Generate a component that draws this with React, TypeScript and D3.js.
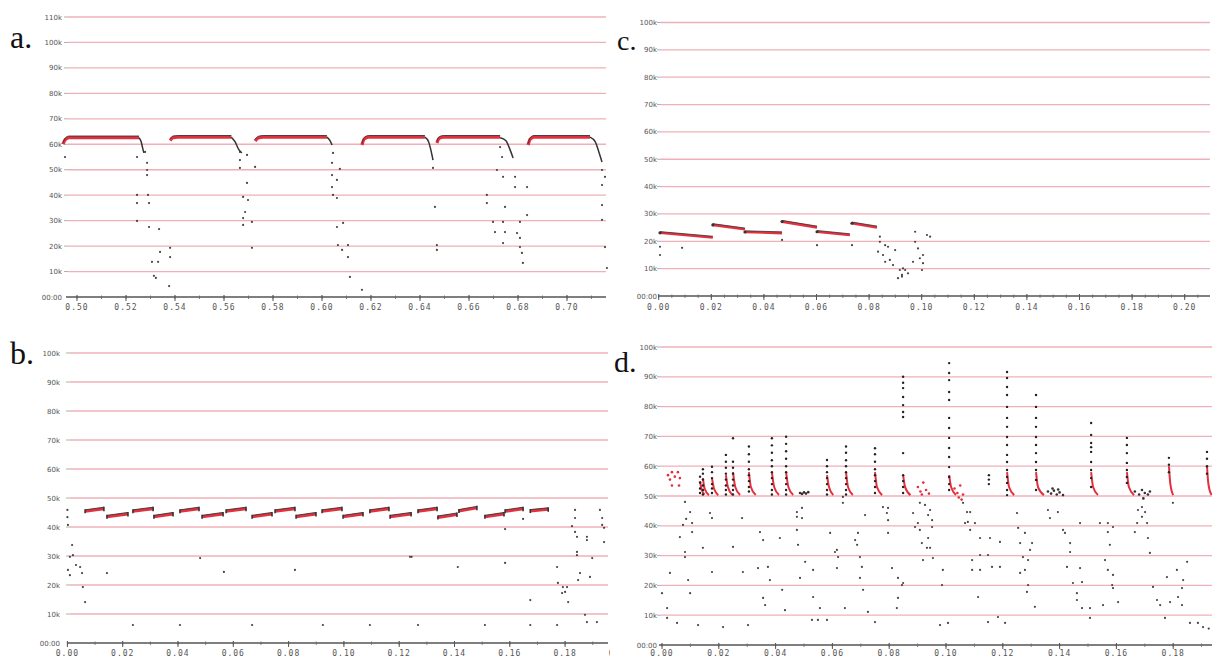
import React from "react";
import * as d3 from "d3";

// ---------------- DATA ----------------
// Panel a
const yTicksA = [0, 10, 20, 30, 40, 50, 60, 70, 80, 90, 100, 110];
const yLabelsA = ["00:00", "10k", "20k", "30k", "40k", "50k", "60k", "70k", "80k", "90k", "100k", "110k"];
const xTicksA = [0.5, 0.52, 0.54, 0.56, 0.58, 0.6, 0.62, 0.64, 0.66, 0.68, 0.7];
const xLabelsA = ["0.50", "0.52", "0.54", "0.56", "0.58", "0.60", "0.62", "0.64", "0.66", "0.68", "0.70"];

const plateauA: [number, number][][] = [
  [[0.4943, 60.0], [0.4952, 61.8], [0.4968, 62.6], [0.5253, 62.6]],
  [[0.538, 61.5], [0.5392, 62.6], [0.541, 62.8], [0.563, 62.8]],
  [[0.5727, 61.3], [0.574, 62.5], [0.576, 62.8], [0.602, 62.8]],
  [[0.6163, 59.7], [0.6172, 62.0], [0.619, 62.8], [0.642, 62.8]],
  [[0.6469, 60.5], [0.6478, 62.3], [0.6495, 62.8], [0.6727, 62.8]],
  [[0.6841, 59.7], [0.685, 62.0], [0.6865, 62.8], [0.7094, 62.8]],
];
const dropA: [number, number][][] = [
  [[0.5253, 62.6], [0.5262, 61.0], [0.5268, 58.5], [0.5273, 56.6]],
  [[0.563, 62.8], [0.5645, 61.0], [0.566, 58.0], [0.5673, 56.6]],
  [[0.602, 62.8], [0.6032, 61.5], [0.6041, 59.7]],
  [[0.642, 62.8], [0.6435, 61.0], [0.6445, 57.5], [0.6453, 53.8]],
  [[0.6727, 62.6], [0.675, 61.5], [0.6765, 58.5], [0.678, 54.6]],
  [[0.7094, 62.8], [0.7115, 61.0], [0.713, 57.0], [0.7143, 53.0]],
];
const scatterA: [number, number][] = [
  [0.4951, 55.0], [0.5245, 55.0], [0.5278, 57.0], [0.5286, 52.7], [0.5286, 49.9], [0.5286, 47.9],
  [0.5245, 40.1], [0.529, 40.1], [0.5245, 36.9], [0.5294, 36.9], [0.5245, 29.9], [0.5294, 27.5],
  [0.5335, 26.7], [0.5339, 17.7], [0.538, 19.3], [0.5306, 13.8], [0.5331, 13.8], [0.538, 15.7],
  [0.5314, 8.3], [0.5322, 7.5], [0.5376, 4.3],
  [0.5665, 57.0], [0.5665, 53.8], [0.5694, 55.8], [0.5665, 50.7], [0.5727, 51.1], [0.5694, 44.8],
  [0.5678, 39.3], [0.5698, 38.1], [0.5686, 33.4], [0.5678, 31.0], [0.5678, 28.3], [0.5714, 29.5],
  [0.5714, 19.3],
  [0.6045, 56.6], [0.6041, 52.7], [0.6073, 50.3], [0.6041, 47.9], [0.6041, 43.2], [0.6061, 46.0],
  [0.6045, 40.1], [0.6061, 38.9], [0.6061, 27.5], [0.6086, 29.1], [0.6065, 20.4], [0.6106, 20.4],
  [0.6082, 18.5], [0.6106, 15.7], [0.6114, 7.9], [0.6163, 2.8],
  [0.6453, 50.7], [0.6461, 35.4], [0.6469, 20.4], [0.6469, 18.5],
  [0.6727, 58.9], [0.6735, 55.0], [0.6714, 49.9], [0.6739, 47.2], [0.6788, 47.2], [0.6673, 40.1],
  [0.6673, 36.9], [0.6747, 35.4], [0.6788, 43.2], [0.6837, 43.2], [0.6698, 29.5], [0.6739, 29.5],
  [0.6808, 29.5], [0.6706, 25.5], [0.6747, 25.5], [0.6796, 25.1], [0.6837, 32.2], [0.6808, 23.2],
  [0.6739, 21.2], [0.6808, 19.6], [0.6816, 17.3], [0.682, 13.4],
  [0.7143, 49.9], [0.7155, 47.2], [0.7143, 44.0], [0.7143, 36.1], [0.7143, 30.3], [0.7155, 19.6],
  [0.7163, 11.4],
];

// Panel b
const yTicksB = [0, 10, 20, 30, 40, 50, 60, 70, 80, 90, 100];
const yLabelsB = ["00:00", "10k", "20k", "30k", "40k", "50k", "60k", "70k", "80k", "90k", "100k"];
const xTicksB = [0, 0.02, 0.04, 0.06, 0.08, 0.1, 0.12, 0.14, 0.16, 0.18, 0.2];
const xLabelsB = ["0.00", "0.02", "0.04", "0.06", "0.08", "0.10", "0.12", "0.14", "0.16", "0.18", "0.20"];
// [xStart, yStart, xEnd, yEnd]
const segmentsB: [number, number, number, number][] = [
  [0.0064, 45.4, 0.0132, 46.3], [0.0143, 43.5, 0.0219, 44.5], [0.0237, 45.4, 0.031, 46.3],
  [0.0313, 43.5, 0.0382, 44.5], [0.0407, 45.4, 0.0476, 46.3], [0.0487, 43.5, 0.0563, 44.5],
  [0.0574, 45.4, 0.0646, 46.3], [0.0668, 43.5, 0.074, 44.5], [0.0751, 45.4, 0.0823, 46.3],
  [0.0827, 43.5, 0.0899, 44.5], [0.0921, 45.4, 0.0993, 46.3], [0.0997, 43.5, 0.1069, 44.5],
  [0.1094, 45.4, 0.1163, 46.3], [0.1167, 43.5, 0.1243, 44.5], [0.1268, 45.4, 0.1337, 46.3],
  [0.134, 43.3, 0.1409, 44.3], [0.1416, 45.5, 0.1481, 46.6], [0.151, 43.5, 0.1579, 44.5],
  [0.1583, 45.4, 0.1648, 46.3], [0.1674, 45.5, 0.1739, 46.1],
];
const scatterB: [number, number][] = [
  [0.0, 45.9], [0.0, 43.4], [0.0002, 40.7], [0.0017, 33.8], [0.002, 30.3], [0.0009, 29.7],
  [0.0031, 26.9], [0.0046, 26.2], [0.0002, 25.2], [0.0053, 24.1], [0.0009, 23.4], [0.0143, 24.1],
  [0.0056, 19.3], [0.0064, 14.1], [0.0237, 6.2], [0.0407, 6.2], [0.0668, 6.2], [0.048, 29.3],
  [0.0566, 24.5], [0.0823, 25.2],
  [0.0924, 6.2], [0.1094, 6.2], [0.1268, 6.2], [0.151, 6.2], [0.1674, 6.2], [0.1771, 6.2],
  [0.1239, 29.7], [0.1245, 29.7], [0.1412, 26.2], [0.1583, 39.3], [0.1583, 27.6], [0.1674, 14.8],
  [0.1648, 42.8], [0.1771, 26.2],
  [0.1836, 45.9], [0.1836, 43.1], [0.1825, 40.3], [0.1836, 38.3], [0.1843, 36.6], [0.1843, 31.4],
  [0.1843, 30.3], [0.1854, 24.1], [0.1847, 21.7], [0.189, 22.8], [0.1774, 20.7], [0.1792, 19.3],
  [0.1789, 17.2], [0.18, 17.6], [0.1811, 14.1], [0.1807, 19.3], [0.1879, 36.6], [0.1879, 35.5],
  [0.1898, 29.3], [0.1926, 45.9], [0.1934, 43.1], [0.1934, 40.7], [0.1941, 39.7], [0.1941, 34.8],
  [0.1872, 9.7], [0.1879, 7.2], [0.1915, 7.2],
];

// Panel c
const yTicksC = [0, 10, 20, 30, 40, 50, 60, 70, 80, 90, 100];
const yLabelsC = ["00:00", "10k", "20k", "30k", "40k", "50k", "60k", "70k", "80k", "90k", "100k"];
const xTicksC = [0, 0.02, 0.04, 0.06, 0.08, 0.1, 0.12, 0.14, 0.16, 0.18, 0.2];
const xLabelsC = ["0.00", "0.02", "0.04", "0.06", "0.08", "0.10", "0.12", "0.14", "0.16", "0.18", "0.20"];
const segmentsC: [number, number, number, number][] = [
  [0.0005, 23.1, 0.0206, 21.4],
  [0.0206, 26.0, 0.0328, 24.4],
  [0.0328, 23.4, 0.0469, 23.0],
  [0.0469, 27.2, 0.0602, 25.1],
  [0.0602, 23.5, 0.0727, 22.3],
  [0.0735, 26.6, 0.083, 25.1],
];
const scatterC: [number, number][] = [
  [0.0005, 18.0], [0.0005, 15.0], [0.0089, 17.6], [0.0469, 20.5], [0.0602, 18.6], [0.0735, 18.6],
  [0.0841, 21.7], [0.0841, 19.8], [0.0861, 18.6], [0.0872, 18.0], [0.0834, 16.2], [0.0853, 15.0],
  [0.0861, 12.5], [0.0879, 13.2], [0.0917, 9.5], [0.0925, 7.7], [0.091, 6.5], [0.0937, 9.5],
  [0.0975, 23.5], [0.102, 22.3], [0.1032, 21.7], [0.0975, 19.8], [0.0986, 17.4], [0.1005, 15.0],
  [0.0993, 13.8], [0.1005, 12.0], [0.1001, 9.5], [0.0967, 12.5], [0.0929, 10.1], [0.0948, 8.3],
  [0.0925, 7.1], [0.0899, 16.8], [0.0891, 11.3],
];

// Panel d
const yTicksD = [0, 10, 20, 30, 40, 50, 60, 70, 80, 90, 100];
const yLabelsD = ["00:00", "10k", "20k", "30k", "40k", "50k", "60k", "70k", "80k", "90k", "100k"];
const xTicksD = [0, 0.02, 0.04, 0.06, 0.08, 0.1, 0.12, 0.14, 0.16, 0.18];
const xLabelsD = ["0.00", "0.02", "0.04", "0.06", "0.08", "0.10", "0.12", "0.14", "0.16", "0.18"];
const spikesD: { x: number; ys: number[] }[] = [
  { x: 0.0134, ys: [56.5, 54.5, 52.5, 51] },
  { x: 0.0144, ys: [59.0, 57.5, 55.5, 53.5, 52, 50.5] },
  { x: 0.0176, ys: [59.8, 58, 56, 54, 52.5, 51] },
  { x: 0.0225, ys: [63.8, 61.5, 59.5, 57.5, 55.5, 53.5, 52, 50.5] },
  { x: 0.025, ys: [69.4, 61.5, 59.5, 57.5, 55.5, 53.5, 52, 50.5] },
  { x: 0.0306, ys: [66.6, 64, 61.5, 59, 57, 55, 53, 51.5] },
  { x: 0.0387, ys: [69.4, 67, 64.5, 62, 60, 58, 56, 54, 52, 50.5] },
  { x: 0.0437, ys: [69.9, 67.5, 65, 62.5, 60, 58, 56, 54, 52, 50.5] },
  { x: 0.0581, ys: [62.1, 60, 58, 56, 54, 52, 50.5] },
  { x: 0.0648, ys: [66.6, 64.5, 62, 60, 58, 56, 54, 52, 50.5] },
  { x: 0.075, ys: [66.0, 64, 61.5, 59, 57, 55, 53, 51] },
  { x: 0.0849, ys: [90.0, 88.0, 86.2, 83.2, 80.5, 78.2, 76.5, 64.4, 57, 55, 53, 51] },
  { x: 0.1011, ys: [94.6, 91.3, 88.9, 84.9, 82.2, 76.2, 72.8, 69.5, 66.1, 63.1, 59.7, 56.4, 54, 52] },
  { x: 0.1151, ys: [57, 55.5, 54] },
  { x: 0.1215, ys: [91.6, 89.6, 86.6, 83.9, 79.9, 76.2, 73.2, 69.8, 67.1, 63.8, 61.4, 58.7, 56.4, 54.4, 52.0, 50.3] },
  { x: 0.1317, ys: [83.9, 79.9, 76.2, 73.2, 69.8, 67.1, 64.4, 61.4, 58.7, 55.4, 52.0] },
  { x: 0.1511, ys: [74.5, 70.5, 67.8, 66.4, 64.8, 61.4, 58.7, 56.0, 53.0] },
  { x: 0.1637, ys: [69.5, 67.1, 64.4, 61.1, 58.7, 56.4, 54.4] },
  { x: 0.1785, ys: [62.8, 60.5, 58] },
  { x: 0.1919, ys: [64.8, 62.5, 60, 57.5] },
];
const decaysD: [number, number][][] = [
  [[0.0134, 55], [0.014, 52], [0.015, 50.5]],
  [[0.0144, 56], [0.015, 52.5], [0.0165, 50.3]],
  [[0.0176, 56], [0.0183, 52.5], [0.0198, 50.3]],
  [[0.0225, 57], [0.0232, 53], [0.0248, 50.3]],
  [[0.025, 58], [0.0258, 53], [0.0275, 50.3]],
  [[0.0306, 58], [0.0313, 53], [0.033, 50.3]],
  [[0.0387, 58], [0.0395, 53], [0.0412, 50.3]],
  [[0.0437, 58], [0.0445, 53], [0.0462, 50.3]],
  [[0.0581, 57], [0.0588, 53], [0.0603, 50.3]],
  [[0.0648, 58], [0.0655, 53], [0.0672, 50.3]],
  [[0.075, 58], [0.0757, 53], [0.0775, 50.3]],
  [[0.0849, 57], [0.0856, 53], [0.0875, 50.3]],
  [[0.1011, 57], [0.1018, 53], [0.1035, 50.3]],
  [[0.1215, 58], [0.1222, 53], [0.124, 50.3]],
  [[0.1317, 58], [0.1324, 53], [0.1345, 50.3]],
  [[0.1511, 58], [0.1518, 53], [0.1535, 50.3]],
  [[0.1637, 58], [0.1644, 53], [0.1662, 50.3]],
  [[0.1785, 60], [0.179, 54], [0.18, 50.3]],
  [[0.1919, 60], [0.1924, 54], [0.1935, 50.3]],
];
const redDotsD: [number, number][] = [
  [0.0021, 57.0], [0.0035, 58.0], [0.0056, 58.0], [0.0063, 56.0], [0.006, 53.5], [0.0035, 53.5],
  [0.0028, 55.5], [0.0045, 56.5],
  [0.0901, 53], [0.091, 51.5], [0.092, 54.5], [0.093, 52], [0.094, 50.8], [0.0915, 50.5],
  [0.103, 52.5], [0.104, 51], [0.105, 53.5], [0.106, 50.5], [0.1045, 49.5], [0.1055, 48.8],
];
const clusterD: [number, number][] = [
  [0.0486, 51.0], [0.0493, 50.7], [0.05, 51.2], [0.0507, 50.8], [0.0515, 51.3],
  [0.1359, 51.5], [0.137, 50.8], [0.138, 51.8], [0.139, 50.5], [0.14, 51.2], [0.1412, 50.3],
  [0.1375, 52.5], [0.1395, 52.2],
  [0.1665, 51.5], [0.168, 50.5], [0.169, 52], [0.17, 51], [0.1711, 50.5], [0.1718, 51.5], [0.1695, 49.2],
];
const scatterD: [number, number][] = [
  [0.0018, 12.4], [0.0018, 9.1], [0.0053, 7.4], [0.0, 17.4], [0.0028, 24.2], [0.0063, 36.2],
  [0.0074, 40.3], [0.0085, 42.3], [0.0081, 29.5], [0.0081, 31.2], [0.0099, 44.6], [0.0106, 40.9],
  [0.0106, 37.9], [0.0092, 21.8], [0.0099, 17.4], [0.0127, 6.7], [0.0081, 48.0], [0.0144, 32.6],
  [0.0169, 44.3], [0.0176, 42.6], [0.0176, 24.5], [0.0215, 6.0], [0.025, 32.9], [0.0282, 42.6],
  [0.0285, 24.5], [0.0303, 6.7], [0.0338, 25.8], [0.0345, 37.9], [0.0356, 35.2], [0.0356, 15.8],
  [0.0363, 13.4], [0.0373, 26.2], [0.038, 21.8], [0.0415, 35.9], [0.0423, 18.5], [0.0433, 11.7],
  [0.0475, 44.6], [0.0475, 43.0], [0.0475, 38.6], [0.0493, 46.0], [0.0493, 42.6], [0.0479, 33.6],
  [0.0486, 22.5], [0.0504, 27.9], [0.0532, 25.2], [0.0532, 16.1], [0.0528, 8.4], [0.0549, 8.4],
  [0.0556, 12.4], [0.0581, 8.4], [0.0592, 37.6], [0.0616, 31.9], [0.0609, 31.2], [0.062, 29.5],
  [0.0616, 25.8], [0.0637, 49.7], [0.0637, 47.7], [0.0644, 12.4], [0.068, 35.2], [0.0687, 33.6],
  [0.0697, 29.5], [0.069, 37.6], [0.0704, 26.2], [0.0697, 22.5], [0.0715, 43.6], [0.0708, 18.5],
  [0.0725, 11.1], [0.075, 7.7], [0.0778, 46.3], [0.0792, 44.3], [0.0796, 46.0], [0.0796, 41.9],
  [0.0796, 37.6], [0.081, 25.8], [0.0831, 22.5], [0.0845, 20.1], [0.0831, 15.8], [0.0827, 12.4],
  [0.0849, 20.8], [0.0891, 39.6], [0.0884, 44.3],
  [0.0908, 47.7], [0.0926, 47.0], [0.0944, 45.3], [0.0937, 43.6], [0.0951, 41.9], [0.0901, 40.9],
  [0.0908, 38.6], [0.0951, 39.6], [0.0937, 35.9], [0.0915, 34.2], [0.0933, 32.6], [0.0944, 32.6],
  [0.0919, 28.5], [0.0954, 29.2], [0.0989, 25.2], [0.0986, 20.1], [0.0979, 6.7], [0.1007, 7.4],
  [0.106, 47.7], [0.1074, 44.6], [0.1085, 44.6], [0.1067, 40.9], [0.1085, 38.6], [0.1102, 40.9],
  [0.1077, 41.3], [0.112, 35.9], [0.1155, 35.9], [0.112, 30.2], [0.1148, 30.2], [0.1092, 28.5],
  [0.1092, 25.2], [0.112, 25.2], [0.1162, 26.2], [0.119, 26.2], [0.1113, 16.1], [0.1148, 7.7],
  [0.1183, 9.4], [0.1208, 7.4], [0.119, 34.6], [0.125, 44.3], [0.1254, 39.3], [0.1278, 37.6],
  [0.1261, 34.2], [0.1303, 34.2], [0.1296, 31.9], [0.1271, 29.5], [0.1289, 28.5], [0.1278, 25.2],
  [0.1261, 24.2], [0.1289, 20.1], [0.1285, 17.8], [0.1313, 12.8], [0.1359, 45.3], [0.1366, 42.6],
  [0.1394, 44.6], [0.1412, 38.6], [0.1419, 37.6], [0.1437, 34.2], [0.1437, 31.2], [0.1426, 26.2],
  [0.1472, 25.8], [0.1447, 20.8], [0.1479, 21.1], [0.1461, 17.4], [0.1461, 15.1], [0.1479, 12.4],
  [0.1507, 12.4], [0.1507, 9.1], [0.1553, 13.4], [0.1606, 14.4], [0.1472, 40.9], [0.1542, 40.9],
  [0.157, 40.9], [0.1588, 39.6], [0.157, 37.9], [0.1577, 33.6], [0.156, 28.5], [0.157, 25.2],
  [0.1588, 23.5], [0.1585, 20.1], [0.1588, 19.1], [0.1676, 45.3], [0.169, 46.3], [0.1701, 44.6],
  [0.169, 43.0], [0.1673, 40.9], [0.1708, 40.9], [0.1665, 37.9], [0.1711, 35.9], [0.1718, 30.9],
  [0.1778, 22.8], [0.1813, 25.2], [0.1835, 21.8], [0.1831, 19.1], [0.1743, 15.1], [0.1754, 13.4],
  [0.1789, 14.4], [0.1817, 16.1], [0.1831, 13.4], [0.1771, 9.1], [0.1859, 7.4], [0.1887, 7.4],
  [0.1905, 6.0], [0.1849, 27.9], [0.1729, 19.5], [0.1799, 47.7], [0.1925, 5.5],
];

// ---------------- LAYOUT ----------------
type Layout = {
  d0: number; d1: number; r0: number; r1: number;
  gx0: number; gx1: number; yb: number; yt: number; ymax: number;
  labelX: number; tickY: number; minor: number; minorMax: number;
  letter: string; lx: number; ly: number; fs: number; clipMax?: number;
};
const layoutA: Layout = { d0: 0.5, d1: 0.7, r0: 77, r1: 567, gx0: 68, gx1: 606, yb: 297, yt: 17, ymax: 110, labelX: 62, tickY: 310, minor: 0.01, minorMax: 0.715, letter: "a.", lx: 10, ly: 48, fs: 32 };
const layoutB: Layout = { d0: 0, d1: 0.18, r0: 67.4, r1: 565.1, gx0: 70, gx1: 608, yb: 643, yt: 353, ymax: 100, labelX: 60, tickY: 656, minor: 0.01, minorMax: 0.195, letter: "b.", lx: 10, ly: 364, fs: 32, clipMax: 610 };
const layoutC: Layout = { d0: 0, d1: 0.2, r0: 658.7, r1: 1184.7, gx0: 661, gx1: 1210, yb: 296, yt: 22.5, ymax: 100, labelX: 657, tickY: 310, minor: 0.005, minorMax: 0.21, letter: "c.", lx: 617, ly: 50, fs: 28 };
const layoutD: Layout = { d0: 0, d1: 0.18, r0: 662, r1: 1173.2, gx0: 661, gx1: 1212, yb: 645, yt: 347, ymax: 100, labelX: 657, tickY: 656, minor: 0.01, minorMax: 0.194, letter: "d.", lx: 614, ly: 372, fs: 30 };

const GRID = "#f0b0ba";
const RED = "#e3303f";
const DOT = "#333";

function Frame({ L, yTicks, yLabels, xTicks, xLabels, id, children }: any) {
  const x = d3.scaleLinear().domain([L.d0, L.d1]).range([L.r0, L.r1]);
  const y = d3.scaleLinear().domain([0, L.ymax]).range([L.yb, L.yt]);
  const minorTicks = d3.range(L.d0, L.minorMax, L.minor);
  const y0 = y(0);
  return (
    <g clipPath={L.clipMax ? `url(#${id})` : undefined}>
      {L.clipMax && (
        <defs>
          <clipPath id={id}>
            <rect x={0} y={0} width={L.clipMax} height={660} />
          </clipPath>
        </defs>
      )}
      {yTicks.map((v: number, i: number) => (
        <g key={"y" + i}>
          {v > 0 && <line x1={L.gx0} x2={L.gx1} y1={y(v)} y2={y(v)} stroke={GRID} strokeWidth={1.3} />}
          {v > 0 && <line x1={L.gx0 - 4} x2={L.gx0} y1={y(v)} y2={y(v)} stroke="#999" strokeWidth={0.8} />}
          <text x={L.labelX} y={y(v) + 2.5} textAnchor="end" fontSize={7} fill="#555" fontFamily="DejaVu Sans">
            {yLabels[i]}
          </text>
        </g>
      ))}
      <line x1={L.gx0 - 2} x2={L.gx1} y1={y0} y2={y0} stroke="#555" strokeWidth={1.5} />
      {minorTicks.map((v: number, i: number) => (
        <line key={"m" + i} x1={x(v)} x2={x(v)} y1={y0 - 1.5} y2={y0 + 2} stroke="#666" strokeWidth={0.8} />
      ))}
      {xTicks.map((v: number, i: number) => (
        <g key={"x" + i}>
          <line x1={x(v)} x2={x(v)} y1={y0 - 2} y2={y0 + 4} stroke="#555" strokeWidth={1} />
          <text x={x(v)} y={L.tickY} textAnchor="middle" fontSize={8} fill="#555" fontFamily="DejaVu Sans Mono" letterSpacing={1}>
            {xLabels[i]}
          </text>
        </g>
      ))}
      <text x={L.lx} y={L.ly} fontSize={L.fs} fontFamily="Liberation Serif" fill="#111">
        {L.letter}
      </text>
      {children(x, y)}
    </g>
  );
}

function dots(data: [number, number][], x: any, y: any, fill: string, r: number, key: string) {
  return data.map((d, i) => <circle key={key + i} cx={x(d[0])} cy={y(d[1])} r={r} fill={fill} />);
}

export default function App() {
  return (
    <svg width={1212} height={660} style={{ position: "absolute", left: 0, top: 0, background: "#fff" }}>
      <rect width={1212} height={660} fill="#fff" />
      <Frame L={layoutA} yTicks={yTicksA} yLabels={yLabelsA} xTicks={xTicksA} xLabels={xLabelsA} id="ca">
        {(x: any, y: any) => {
          const line = d3.line<[number, number]>().x((d) => x(d[0])).y((d) => y(d[1])).curve(d3.curveMonotoneX);
          return (
            <g>
              {dots(scatterA, x, y, "#444", 1.1, "sa")}
              {plateauA.map((p, i) => (
                <g key={"pa" + i}>
                  <path d={line(p) || ""} stroke={RED} strokeWidth={3.2} fill="none" />
                  <path d={line(p) || ""} stroke="#333" strokeWidth={0.9} fill="none" transform="translate(0,-1.6)" />
                </g>
              ))}
              {dropA.map((p, i) => (
                <path key={"da" + i} d={line(p) || ""} stroke="#333" strokeWidth={1.5} fill="none" />
              ))}
            </g>
          );
        }}
      </Frame>
      <Frame L={layoutB} yTicks={yTicksB} yLabels={yLabelsB} xTicks={xTicksB} xLabels={xLabelsB} id="cb">
        {(x: any, y: any) => (
          <g>
            {dots(scatterB, x, y, "#444", 1.1, "sb")}
            {segmentsB.map((s, i) => {
              const pts: [number, number][] = [[s[0], s[1]], [s[2], s[3]]];
              const line = d3.line<[number, number]>().x((d) => x(d[0])).y((d) => y(d[1]));
              return (
                <g key={"gb" + i}>
                  <path d={line(pts) || ""} stroke={RED} strokeWidth={3} fill="none" />
                  <path d={line(pts) || ""} stroke="#333" strokeWidth={0.9} fill="none" transform="translate(0,-1.5)" />
                  <line x1={x(s[0])} x2={x(s[0])} y1={y(s[1]) - 2} y2={y(s[1]) + 2} stroke="#333" strokeWidth={1.6} />
                  <line x1={x(s[2])} x2={x(s[2])} y1={y(s[3]) - 2} y2={y(s[3]) + 2.5} stroke="#333" strokeWidth={1.6} />
                </g>
              );
            })}
          </g>
        )}
      </Frame>
      <Frame L={layoutC} yTicks={yTicksC} yLabels={yLabelsC} xTicks={xTicksC} xLabels={xLabelsC} id="cc">
        {(x: any, y: any) => (
          <g>
            {dots(scatterC, x, y, "#444", 1.1, "sc")}
            {segmentsC.map((s, i) => {
              const pts: [number, number][] = [[s[0], s[1]], [s[2], s[3]]];
              const line = d3.line<[number, number]>().x((d) => x(d[0])).y((d) => y(d[1]));
              return (
                <g key={"gc" + i}>
                  <path d={line(pts) || ""} stroke={RED} strokeWidth={2.6} fill="none" />
                  <path d={line(pts) || ""} stroke="#333" strokeWidth={0.8} fill="none" transform="translate(0,-1.2)" />
                  <circle cx={x(s[0])} cy={y(s[1])} r={1.6} fill="#333" />
                </g>
              );
            })}
          </g>
        )}
      </Frame>
      <Frame L={layoutD} yTicks={yTicksD} yLabels={yLabelsD} xTicks={xTicksD} xLabels={xLabelsD} id="cd">
        {(x: any, y: any) => {
          const line = d3.line<[number, number]>().x((d) => x(d[0])).y((d) => y(d[1])).curve(d3.curveMonotoneX);
          return (
            <g>
              {dots(scatterD, x, y, "#444", 1.1, "sd")}
              {dots(clusterD, x, y, DOT, 1.3, "cd")}
              {decaysD.map((p, i) => (
                <path key={"dd" + i} d={line(p) || ""} stroke={RED} strokeWidth={2} fill="none" />
              ))}
              {dots(redDotsD, x, y, RED, 1.3, "rd")}
              {spikesD.map((s, i) =>
                s.ys.map((v, j) => <circle key={"sp" + i + "_" + j} cx={x(s.x)} cy={y(v)} r={1.2} fill="#222" />)
              )}
            </g>
          );
        }}
      </Frame>
    </svg>
  );
}
